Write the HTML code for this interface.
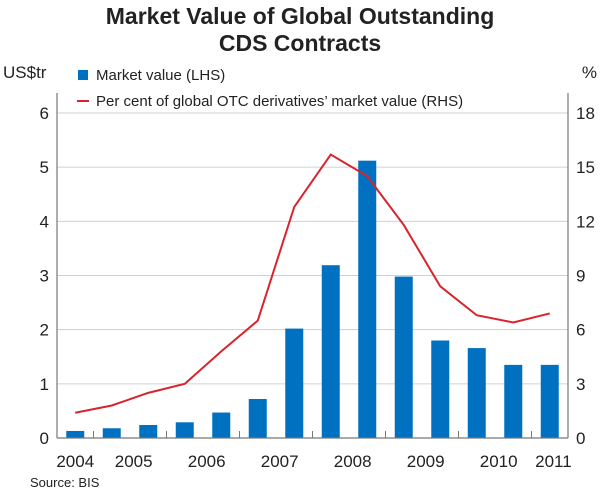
<!DOCTYPE html>
<html><head><meta charset="utf-8"><style>
body{margin:0;background:#fff;}
svg text{font-family:"Liberation Sans",Arial,sans-serif;fill:#222;}
</style></head><body>
<svg width="600" height="491" xmlns="http://www.w3.org/2000/svg">
<text x="300" y="24" text-anchor="middle" font-size="23" font-weight="bold">Market Value of Global Outstanding</text>
<text x="300" y="51" text-anchor="middle" font-size="23" font-weight="bold">CDS Contracts</text>
<text x="3" y="78" font-size="17">US$tr</text>
<text x="597" y="78" font-size="17" text-anchor="end">%</text>
<g id="grid"></g><g id="bars"></g><g id="line"></g><g id="axes"></g>
<rect x="78" y="70" width="10" height="10" fill="#0070c0"/>
<text x="96" y="80" font-size="15">Market value (LHS)</text>
<line x1="77" y1="101" x2="89" y2="101" stroke="#d9232e" stroke-width="2"/>
<text x="96" y="106" font-size="15">Per cent of global OTC derivatives’ market value (RHS)</text>
<text x="30" y="487" font-size="13">Source: BIS</text>
</svg>
<script>
const barValues=[0.13,0.18,0.24,0.29,0.47,0.72,2.02,3.19,5.12,2.98,1.80,1.66,1.35,1.35];
const lineValues=[1.4,1.8,2.5,3.0,4.8,6.5,12.8,15.7,14.5,11.8,8.4,6.8,6.4,6.9];
const leftTicks=[0,1,2,3,4,5,6];
const rightTicks=[0,3,6,9,12,15,18];
const yearLabels=["2004","2005","2006","2007","2008","2009","2010","2011"];
const yearPos=[0,1.6,3.6,5.6,7.6,9.6,11.6,13.1];
const NS="http://www.w3.org/2000/svg";
const L=57,R=568,T=113,B=438;
const slot=(R-L)/barValues.length;
const xc=i=>L+slot*(i+0.5);
const yL=v=>B-(v/6)*(B-T);
const yR=v=>B-(v/18)*(B-T);
function mk(tag,attrs,parent){const e=document.createElementNS(NS,tag);for(const k in attrs)e.setAttribute(k,attrs[k]);document.getElementById(parent).appendChild(e);return e;}
leftTicks.forEach((t,i)=>{
 const g=mk('line',{x1:L,x2:R,y1:yL(t),y2:yL(t),stroke:'#d0d0d0','stroke-width':1},'grid');
 
 
 const a=mk('text',{x:L-8,y:yL(t)+6,'text-anchor':'end','font-size':17},'axes');a.textContent=t;
 
 
});
rightTicks.forEach(t=>{
 const a=mk('text',{x:R+8,y:yR(t)+6,'font-size':17},'axes');a.textContent=t;
 
 
});
barValues.forEach((v,i)=>{
 const r=mk('rect',{x:xc(i)-9,y:yL(v),width:18,height:B-yL(v),fill:'#0070c0'},'bars');
 
 
});
const p=mk('polyline',{points:lineValues.map((v,i)=>xc(i)+','+yR(v)).join(' '),fill:'none',stroke:'#d9232e','stroke-width':2},'line');


[[L,T-20,L,B],[R,T-20,R,B],[L,B,R,B]].forEach(c=>{
 const a=mk('line',{x1:c[0],y1:c[1],x2:c[2],y2:c[3],stroke:'#777','stroke-width':1.2},'axes');
 
 
});
for(let i=1;i<barValues.length;i+=2){
 const tk=mk('line',{x1:L+slot*i,x2:L+slot*i,y1:B,y2:B-7,stroke:'#777'},'axes');
 
 
}
yearLabels.forEach((y,i)=>{
 const a=mk('text',{x:xc(yearPos[i]),y:467,'text-anchor':'middle','font-size':17},'axes');a.textContent=y;
 
 
});
</script>
</body></html>
